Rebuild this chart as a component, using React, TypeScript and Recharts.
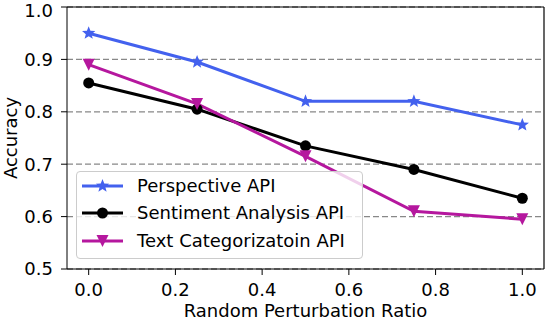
import React from "react"
import { LineChart, Line, XAxis, YAxis, CartesianGrid, Legend, ReferenceLine } from "recharts"

const ratios = [0.0, 0.25, 0.5, 0.75, 1.0]
const perspective = [0.95, 0.895, 0.82, 0.82, 0.775]
const sentiment = [0.855, 0.805, 0.735, 0.69, 0.635]
const textCat = [0.89, 0.815, 0.715, 0.61, 0.595]

const xTicks = [0.0, 0.2, 0.4, 0.6, 0.8, 1.0]
const yTicks = [0.5, 0.6, 0.7, 0.8, 0.9, 1.0]

const data = ratios.map((r, i) => ({
  ratio: r,
  perspective: perspective[i],
  sentiment: sentiment[i],
  textCat: textCat[i],
}))

const FONT = "DejaVu Sans, sans-serif"
const FS = 18

function starPoints(cx: number, cy: number, ro: number, ri: number) {
  const pts: string[] = []
  for (let k = 0; k < 10; k++) {
    const r = k % 2 === 0 ? ro : ri
    const a = -Math.PI / 2 + (k * Math.PI) / 5
    pts.push(`${cx + r * Math.cos(a)},${cy + r * Math.sin(a)}`)
  }
  return pts.join(" ")
}

function Marker({ kind, cx, cy, color }: { kind: string; cx: number; cy: number; color: string }) {
  if (kind === "star") return <polygon points={starPoints(cx, cy, 7, 3)} fill={color} />
  if (kind === "circle") return <circle cx={cx} cy={cy} r={5.5} fill={color} />
  const h = 6
  return <polygon points={`${cx - h},${cy - h} ${cx + h},${cy - h} ${cx},${cy + h}`} fill={color} />
}

const series = [
  { key: "perspective", name: "Perspective API", color: "#4361ee", kind: "star" },
  { key: "sentiment", name: "Sentiment Analysis API", color: "#000000", kind: "circle" },
  { key: "textCat", name: "Text Categorizatoin API", color: "#b5179e", kind: "tri" },
]

function LegendBox() {
  return (
    <div
      style={{
        background: "rgba(255,255,255,0.8)",
        border: "1px solid #cccccc",
        borderRadius: 4,
        width: 287,
        height: 88,
        boxSizing: "border-box",
        paddingTop: 0,
        fontFamily: FONT,
        fontSize: FS,
      }}
    >
      {series.map((s) => (
        <div key={s.key} style={{ display: "flex", alignItems: "center", height: 27.5, whiteSpace: "nowrap" }}>
          <svg width={60} height={20} style={{ flexShrink: 0 }}>
            <line x1={5} x2={46} y1={10} y2={10} stroke={s.color} strokeWidth={3} />
            <Marker kind={s.kind} cx={25.5} cy={10} color={s.color} />
          </svg>
          <span style={{ color: "#000", lineHeight: "20px" }}>{s.name}</span>
        </div>
      ))}
    </div>
  )
}

export default function App() {
  return (
    <div style={{ position: "absolute", left: 0, top: 0, width: 546, height: 322, background: "#fff" }}>
      <LineChart width={546} height={322} data={data} margin={{ top: 7, right: 2, left: 0, bottom: 0 }}>
        <CartesianGrid vertical={false} stroke="#888888" strokeDasharray="6 3" strokeWidth={1.3} />
        <XAxis
          dataKey="ratio"
          type="number"
          domain={[-0.05, 1.05]}
          ticks={xTicks}
          tickFormatter={(v: number) => v.toFixed(1)}
          height={53}
          stroke="#000"
          tickSize={6}
          tickMargin={8}
          tick={{ fill: "#000", fontSize: FS, fontFamily: FONT }}
          label={(p: any) => (
            <text
              x={p.viewBox.x + p.viewBox.width / 2}
              y={317}
              textAnchor="middle"
              fontSize={FS}
              fontFamily={FONT}
              fill="#000"
            >
              Random Perturbation Ratio
            </text>
          )}
        />
        <YAxis
          type="number"
          domain={[0.5, 1.0]}
          ticks={yTicks}
          tickFormatter={(v: number) => v.toFixed(1)}
          width={67}
          stroke="#000"
          tickSize={6}
          tickMargin={8}
          tick={{ fill: "#000", fontSize: FS, fontFamily: FONT }}
          label={(p: any) => {
            const cy = p.viewBox.y + p.viewBox.height / 2
            return (
              <text
                x={17}
                y={cy}
                transform={`rotate(-90, 17, ${cy})`}
                textAnchor="middle"
                fontSize={FS}
                fontFamily={FONT}
                fill="#000"
              >
                Accuracy
              </text>
            )
          }}
        />
        <ReferenceLine y={1.0} stroke="#000" strokeWidth={1.2} />
        <ReferenceLine x={1.05} stroke="#000" strokeWidth={1.2} />
        {series.map((s) => (
          <Line
            key={s.key}
            dataKey={s.key}
            name={s.name}
            type="linear"
            stroke={s.color}
            strokeWidth={3}
            isAnimationActive={false}
            dot={(p: any) => <Marker key={`${s.key}-${p.index}`} kind={s.kind} cx={p.cx} cy={p.cy} color={s.color} />}
            activeDot={false}
          />
        ))}
        <Legend
          layout="vertical"
          align="center"
          verticalAlign="middle"
          content={() => <LegendBox />}
          wrapperStyle={{ position: "absolute", left: 76, top: 171, width: 287, height: 88 }}
        />
      </LineChart>
    </div>
  )
}
